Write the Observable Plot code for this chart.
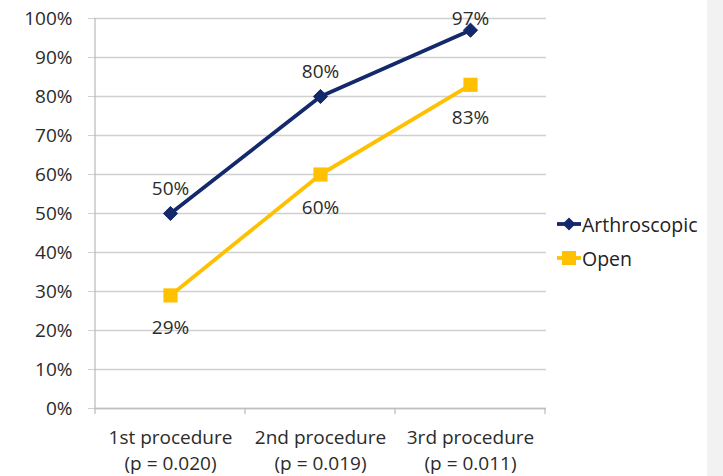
<!DOCTYPE html>
<html><head><meta charset="utf-8">
<script src="https://cdn.jsdelivr.net/npm/d3@7"></script>
<script src="https://cdn.jsdelivr.net/npm/@observablehq/plot@0.6"></script>
<style>
body{margin:0;background:#fff;font-family:"Open Sans",sans-serif;}
#wrap{position:relative;width:723px;height:476px;overflow:hidden;}
#strip{position:absolute;left:707px;top:0;width:16px;height:476px;background:#f2f2f2;}
#legend{position:absolute;left:556px;top:207px;font-size:19.5px;color:#222;}
.row{display:flex;align-items:center;height:34px;}
</style></head>
<body><div id="wrap"><div id="strip"></div><div id="chart"></div><div id="legend"></div></div>
<script>
const categories = ["1st procedure", "2nd procedure", "3rd procedure"];
const pValues = ["(p = 0.020)", "(p = 0.019)", "(p = 0.011)"];
const seriesNames = ["Arthroscopic", "Open"];
const arthroscopic = [50, 80, 97];
const open = [29, 60, 83];
const yTicks = [0,10,20,30,40,50,60,70,80,90,100];
const colors = {"Arthroscopic":"#13296b","Open":"#ffc000"};

const data = [
  ...categories.map((c,i)=>({cat:c, series:"Arthroscopic", v:arthroscopic[i]})),
  ...categories.map((c,i)=>({cat:c, series:"Open", v:open[i]}))
];
const A = data.filter(d=>d.series==="Arthroscopic");
const O = data.filter(d=>d.series==="Open");
const font = "Open Sans";
const fs = 19;

const plot = Plot.plot({
  width:723, height:476,
  marginLeft:94, marginRight:177, marginTop:18, marginBottom:68,
  style:{fontFamily:font, fontSize:fs+"px", color:"#2b2b2b", background:"transparent"},
  x:{type:"band", domain:categories, padding:0, label:null},
  y:{domain:[0,100], label:null},
  marks:[
    Plot.axisY({ticks:yTicks, tickSize:6, tickPadding:16, stroke:"#d0d0d0", tickFormat:d=>d+"%", fontSize:fs, fill:"#2b2b2b"}),
    Plot.gridY(yTicks, {stroke:"#d0d0d0", strokeOpacity:1, strokeWidth:1.3}),
    Plot.axisX({tickSize:0, tickPadding:17, fontSize:fs, fill:"#2b2b2b", lineHeight:1.38,
      tickFormat:(d)=>d+"\n"+pValues[categories.indexOf(d)]}),
    Plot.ruleY([0], {stroke:"#bfbfbf", strokeWidth:1.3}),
    Plot.line(A, {x:"cat", y:"v", stroke:colors.Arthroscopic, strokeWidth:3.8}),
    Plot.line(O, {x:"cat", y:"v", stroke:colors.Open, strokeWidth:3.8}),
    Plot.dot(A, {x:"cat", y:"v", symbol:"diamond2", r:6.4, fill:colors.Arthroscopic, stroke:colors.Arthroscopic, strokeWidth:1}),
    Plot.dot(O, {x:"cat", y:"v", symbol:"square", r:8, fill:colors.Open, stroke:colors.Open, strokeWidth:0}),
    Plot.text(A, {x:"cat", y:"v", text:d=>d.v+"%", dy:-25, fontSize:fs, fill:"#2b2b2b"}),
    Plot.text(O, {x:"cat", y:"v", text:d=>d.v+"%", dy:33, fontSize:fs, fill:"#2b2b2b"})
  ]
});
document.getElementById("chart").appendChild(plot);

// y axis line and category boundary ticks, from Plot's scales
const xs = plot.scale("x"), ys = plot.scale("y");
const svg = d3.select(plot);
const y0 = ys.apply(0), y1 = ys.apply(100);
const bw = xs.bandwidth;
const bounds = categories.map(c=>xs.apply(c)).concat([xs.apply(categories[categories.length-1])+bw]);
const g = svg.append("g");
g.append("line").attr("x1",bounds[0]).attr("x2",bounds[0]).attr("y1",y1).attr("y2",y0+6)
  .attr("stroke","#bfbfbf").attr("stroke-width",1.3);
g.selectAll("line.t").data(bounds.slice(1)).join("line").attr("class","t")
  .attr("x1",d=>d).attr("x2",d=>d).attr("y1",y0).attr("y2",y0+6)
  .attr("stroke","#bfbfbf").attr("stroke-width",1.3);
svg.selectAll('g[aria-label="line"], g[aria-label="dot"], g[aria-label="text"]').raise();

// keep data labels inside the chart area (as the original spreadsheet chart does)
const svgTop = plot.getBoundingClientRect().top;
svg.selectAll('g[aria-label="text"] text').each(function(){
  const top = this.getBoundingClientRect().top - svgTop;
  const minTop = 5;
  if (top < minTop) {
    const t = this.getAttribute("transform") || "";
    this.setAttribute("transform", t + ` translate(0,${minTop - top})`);
  }
});

// legend
const leg = d3.select("#legend");
seriesNames.forEach(name=>{
  const row = leg.append("div").attr("class","row");
  const s = row.append("svg").attr("width",26).attr("height",20);
  s.append("line").attr("x1",1).attr("x2",25).attr("y1",10).attr("y2",10).attr("stroke",colors[name]).attr("stroke-width",3.8);
  if(name==="Arthroscopic"){
    s.append("path").attr("d","M13,3.5 L19.5,10 L13,16.5 L6.5,10Z").attr("fill",colors[name]);
  } else {
    s.append("rect").attr("x",6).attr("y",3).attr("width",14).attr("height",14).attr("fill",colors[name]);
  }
  row.append("span").text(name);
});
</script></body></html>
